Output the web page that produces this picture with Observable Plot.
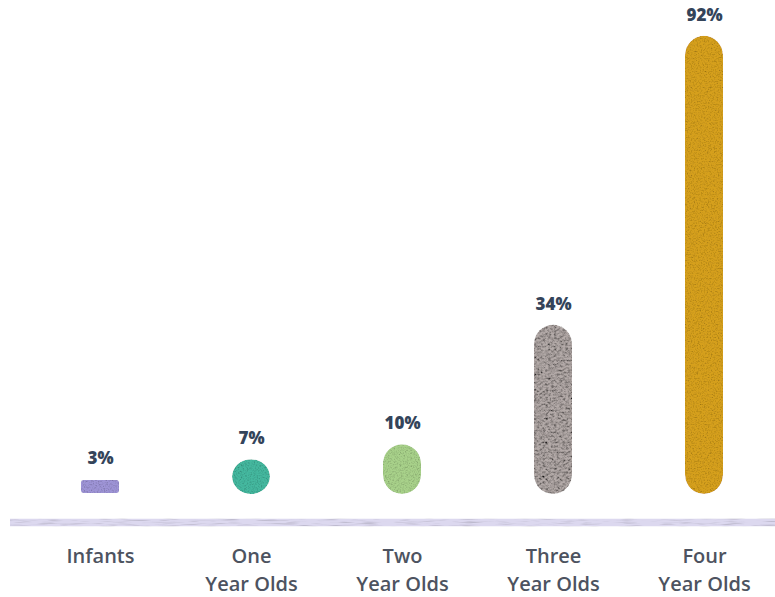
<!DOCTYPE html>
<html>
<head>
<meta charset="utf-8">
<script src="https://cdn.jsdelivr.net/npm/d3@7"></script>
<script src="https://cdn.jsdelivr.net/npm/@observablehq/plot@0.6"></script>
<style>
  html, body { margin: 0; padding: 0; background: #ffffff; }
  #chart { width: 775px; height: 597px; }
</style>
</head>
<body>
<div id="chart"></div>
<script>
const categories = ["Infants", "One\nYear Olds", "Two\nYear Olds", "Three\nYear Olds", "Four\nYear Olds"];
const values = [3, 7, 10, 34, 92];
const valueLabels = ["3%", "7%", "10%", "34%", "92%"];
const barColors = ["#9e94d6", "#44b89f", "#a8d18a", "#b3aaa8", "#d6a01c"];

const data = categories.map((c, i) => ({
  category: c, value: values[i], label: valueLabels[i], color: barColors[i]
}));

const chart = Plot.plot({
  width: 775,
  height: 597,
  marginLeft: 10,
  marginRight: 0,
  marginTop: 0,
  marginBottom: 103,
  style: { fontFamily: "'Open Sans', Lato, sans-serif", color: "#4d5360", background: "#ffffff" },
  x: { domain: categories, range: [23, 781], paddingInner: 0.75, paddingOuter: 0.375, label: null },
  y: { domain: [0, 100], range: [494, -4], axis: null },
  color: { type: "identity" },
  marks: [
    Plot.ruleY([0], { dy: 28, stroke: "#dcd8ef", strokeWidth: 8 }),
    Plot.barY(data.filter(d => d.value >= 5), { x: "category", y: "value", fill: "color", rx: 19 }),
    Plot.barY(data.filter(d => d.value < 5), { x: "category", y: "value", fill: "color", rx: 2, insetTop: 1, insetBottom: 1 }),
    Plot.text(data, { x: "category", y: "value", text: "label", dy: -21, fontSize: 17, fontWeight: 800, fill: "#34445a", letterSpacing: 0.5 }),
    Plot.axisX({ tickSize: 0, tickPadding: 49, fontSize: 20, fontWeight: 600, lineHeight: 1.4 })
  ]
});

// texture filters
const ns = "http://www.w3.org/2000/svg";
const defs = document.createElementNS(ns, "defs");
const cm = `<feColorMatrix in="t" type="matrix" values="0.33 0.33 0.33 0 0  0.33 0.33 0.33 0 0  0.33 0.33 0.33 0 0  0 0 0 0 1" result="g"/>`;
const ct = (s, i) => `<feComponentTransfer in="g" result="g2">
      <feFuncR type="linear" slope="${s}" intercept="${i}"/>
      <feFuncG type="linear" slope="${s}" intercept="${i}"/>
      <feFuncB type="linear" slope="${s}" intercept="${i}"/>
    </feComponentTransfer>
    <feBlend mode="multiply" in="SourceGraphic" in2="g2" result="b"/>
    <feComposite in="b" in2="SourceGraphic" operator="in"/>`;
defs.innerHTML = `
  <filter id="grain" x="-5%" y="-5%" width="110%" height="110%">
    <feTurbulence type="fractalNoise" baseFrequency="0.7" numOctaves="2" seed="4" result="t"/>
    ${cm}${ct(1.6, 0.15)}
  </filter>
  <filter id="burlap" x="-5%" y="-5%" width="110%" height="110%">
    <feTurbulence type="fractalNoise" baseFrequency="0.35 0.5" numOctaves="3" seed="7" result="t"/>
    ${cm}${ct(3.2, -0.8)}
  </filter>
  <filter id="stripe" filterUnits="userSpaceOnUse" x="0" y="0" width="775" height="597">
    <feTurbulence type="fractalNoise" baseFrequency="0.05 0.6" numOctaves="2" seed="11" result="t"/>
    ${cm}${ct(1.4, 0.3)}
  </filter>`;
chart.insertBefore(defs, chart.firstChild);
chart.querySelectorAll('g[aria-label="bar"] rect').forEach(r => {
  const f = (r.getAttribute("fill") || "").toLowerCase();
  r.setAttribute("filter", f === "#b3aaa8" ? "url(#burlap)" : "url(#grain)");
});
chart.querySelectorAll('g[aria-label="rule"] line').forEach(l => l.setAttribute("filter", "url(#stripe)"));

document.getElementById("chart").appendChild(chart);
</script>
</body>
</html>
